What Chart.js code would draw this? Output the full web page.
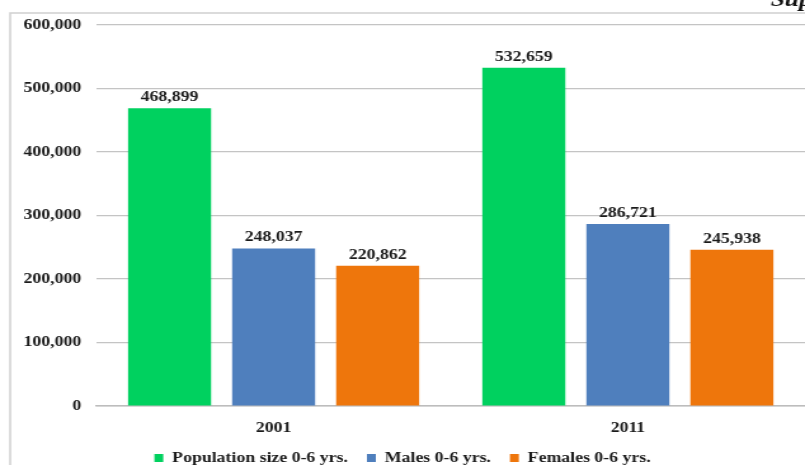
<!DOCTYPE html>
<html>
<head>
<meta charset="utf-8">
<script src="https://cdn.jsdelivr.net/npm/chart.js@4"></script>
<style>
  html, body { margin: 0; padding: 0; background: #fff; overflow: hidden; }
  #wrap { width: 634px; height: 465px; transform: scaleX(1.2697); transform-origin: 0 0; }
</style>
</head>
<body>
<div id="wrap"><canvas id="chart" width="634" height="465"></canvas></div>
<script>
const years = ['2001', '2011'];
const populationSize = [468899, 532659];
const males = [248037, 286721];
const females = [220862, 245938];
const seriesNames = ['Population size 0-6 yrs.', 'Males 0-6 yrs.', 'Females 0-6 yrs.'];
const yMax = 600000;
const yStep = 100000;

const serif = '"Liberation Serif", "Times New Roman", serif';

// chart frame and the clipped note in the top corner
const framePlugin = {
  id: 'frame',
  beforeDraw(chart) {
    const c = chart.ctx;
    c.save();
    c.strokeStyle = '#cfcfcf';
    c.lineWidth = 1.5;
    c.strokeRect(8, 13, chart.width + 20, chart.height + 20);
    c.fillStyle = '#111';
    c.font = 'italic bold 20px ' + serif;
    c.textBaseline = 'alphabetic';
    c.fillText('Sup', 607, 6);
    c.restore();
  }
};

// value labels above bars
const valueLabels = {
  id: 'valueLabels',
  afterDatasetsDraw(chart) {
    const c = chart.ctx;
    c.save();
    c.fillStyle = '#1a1a1a';
    c.font = 'bold 14px ' + serif;
    c.textAlign = 'center';
    c.textBaseline = 'alphabetic';
    chart.data.datasets.forEach((ds, i) => {
      chart.getDatasetMeta(i).data.forEach((bar, j) => {
        c.fillText(ds.data[j].toLocaleString('en-US'), bar.x, bar.y - 7);
      });
    });
    c.restore();
  }
};

const ctx = document.querySelector('#chart').getContext('2d');

new Chart(ctx, {
  type: 'bar',
  data: {
    labels: years,
    datasets: [
      { label: seriesNames[0], data: populationSize, backgroundColor: '#00d15f' },
      { label: seriesNames[1], data: males, backgroundColor: '#4f7fbd' },
      { label: seriesNames[2], data: females, backgroundColor: '#ee760c' }
    ]
  },
  options: {
    responsive: false,
    animation: false,
    devicePixelRatio: 1,
    categoryPercentage: 0.881,
    barPercentage: 0.798,
    layout: { padding: { top: 25, right: 0, bottom: -10, left: 0 } },
    scales: {
      x: {
        grid: { display: false },
        border: { display: true, color: '#bdbdbd', width: 1.5 },
        ticks: { color: '#1a1a1a', font: { family: serif, size: 14, weight: 'bold' }, padding: 6 },
        afterFit(scale) { scale.height = 30; }
      },
      y: {
        min: 0,
        max: yMax,
        grid: { color: '#c4c4c4', lineWidth: 1.2, drawTicks: false },
        border: { display: false },
        ticks: {
          stepSize: yStep,
          padding: 12,
          color: '#1a1a1a',
          font: { family: serif, size: 14, weight: 'bold' },
          callback: v => v.toLocaleString('en-US')
        },
        afterFit(scale) { scale.width = 76; }
      }
    },
    plugins: {
      legend: {
        position: 'bottom',
        labels: {
          boxWidth: 7,
          boxHeight: 8,
          padding: 15,
          color: '#1a1a1a',
          font: { family: serif, size: 14, weight: 'bold' }
        }
      },
      tooltip: { enabled: false }
    }
  },
  plugins: [framePlugin, valueLabels]
});
</script>
</body>
</html>
